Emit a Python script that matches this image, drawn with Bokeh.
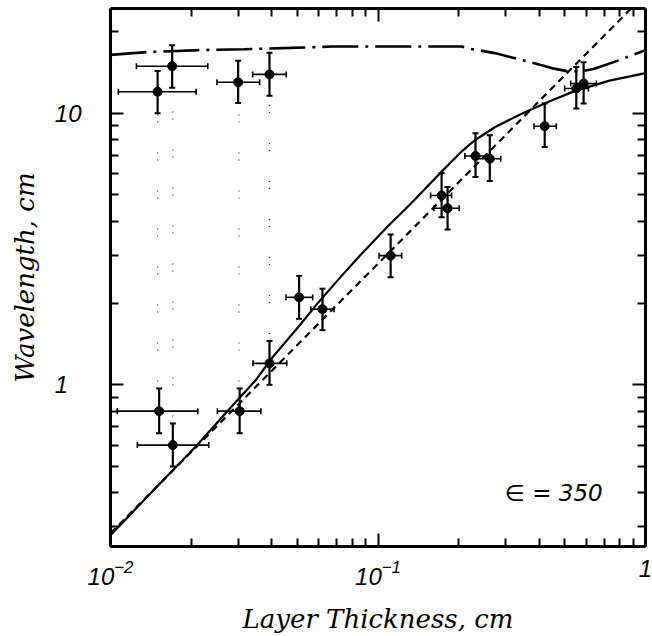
from bokeh.plotting import figure
from bokeh.models import ColumnDataSource, Whisker, TeeHead, FixedTicker, LogAxis, Label, LogTickFormatter
from bokeh.embed import file_html
from bokeh.resources import INLINE

# ---------------- data ----------------
# measured points: layer thickness h (cm), wavelength lam (cm), with error limits
h      = [0.0150, 0.0170, 0.0300, 0.0393, 0.0152, 0.0171, 0.0304, 0.0393, 0.0507,
          0.0620, 0.1115, 0.1729, 0.182, 0.2315, 0.2618, 0.4199, 0.5512, 0.587]
h_lo   = [0.0107, 0.0125, 0.0250, 0.0340, 0.0106, 0.0126, 0.0251, 0.0341, 0.0453,
          0.0561, 0.1009, 0.1573, 0.1618, 0.2112, 0.2302, 0.383, 0.4986, 0.525]
h_hi   = [0.0209, 0.0231, 0.0361, 0.0454, 0.0212, 0.0233, 0.0365, 0.0456, 0.0570,
          0.0685, 0.1226, 0.1884, 0.2011, 0.2551, 0.2877, 0.464, 0.612, 0.655]
lam    = [12.0, 14.9, 13.0, 13.9, 0.80, 0.60, 0.80, 1.20, 2.10,
          1.90, 2.99, 4.98, 4.47, 6.96, 6.80, 8.96, 12.33, 12.87]
lam_lo = [10.0, 12.4, 10.9, 11.6, 0.664, 0.50, 0.664, 1.00, 1.75,
          1.59, 2.49, 4.14, 3.73, 5.82, 5.63, 7.51, 10.4, 10.86]
lam_hi = [14.3, 17.8, 15.6, 16.7, 0.97, 0.72, 0.97, 1.45, 2.52,
          2.26, 3.58, 6.02, 5.35, 8.44, 8.30, 10.86, 14.8, 15.4]

# faint dotted connectors between paired branches
conn_h  = [0.0150, 0.0171, 0.0302, 0.0393]
conn_lo = [0.97, 0.72, 0.97, 1.45]
conn_hi = [10.0, 12.4, 10.9, 11.6]

# theory curve (solid)
solid_h   = [0.01, 0.01537, 0.02076, 0.02804, 0.03475, 0.04022, 0.05117, 0.05971,
             0.07213, 0.08566, 0.1086, 0.1317, 0.1703, 0.2076, 0.2301, 0.2733,
             0.3445, 0.4384, 0.5433, 0.7338, 1.0]
solid_lam = [0.2796, 0.4350, 0.5905, 0.8224, 1.035, 1.258, 1.665, 2.007,
             2.482, 2.992, 3.83, 4.616, 6.005, 7.304, 7.951, 8.88,
             9.96, 11.07, 12.06, 13.18, 14.05]

# linear law (dashed)
dash_h   = [0.01, 0.887]
dash_lam = [0.284, 24.4]

# second branch (dash-dot)
dd_h   = [0.01, 0.01374, 0.02168, 0.0316, 0.0470, 0.0679, 0.2056, 0.2167, 0.2733,
          0.3660, 0.4457, 0.5072, 0.5671, 0.6397, 0.7998, 1.0]
dd_lam = [16.4, 16.8, 17.08, 17.2, 17.4, 17.6, 17.6, 17.33, 16.65,
          15.47, 14.66, 14.29, 14.25, 14.54, 15.69, 17.08]

x_major = [0.01, 0.1, 1.0]
x_minor = [0.02, 0.03, 0.04, 0.05, 0.06, 0.07, 0.08, 0.09,
           0.2, 0.3, 0.4, 0.5, 0.6, 0.7, 0.8, 0.9]
x_labels = {1.0: "1"}
y_major = [1.0, 10.0]
y_minor = [0.3, 0.4, 0.5, 0.6, 0.7, 0.8, 0.9, 2, 3, 4, 5, 6, 7, 8, 9, 20]
y_labels = {1.0: "1\u2007", 10.0: "10"}

# ---------------- figure ----------------
p = figure(width=652, height=636, x_axis_type="log", y_axis_type="log",
           x_range=(0.01, 1.0), y_range=(0.254, 24.3),
           output_backend="svg", toolbar_location=None,
           min_border_left=110, min_border_right=7, min_border_top=8, min_border_bottom=89)
p.background_fill_color = "white"
p.border_fill_color = "white"
p.outline_line_color = None
p.xgrid.visible = False
p.ygrid.visible = False

bottom_ax = p.below[0]
left_ax = p.left[0]
top_ax = LogAxis()
right_ax = LogAxis()
p.add_layout(top_ax, "above")
p.add_layout(right_ax, "right")

for ax in [bottom_ax, top_ax]:
    ax.ticker = FixedTicker(ticks=x_major, minor_ticks=x_minor)
for ax in [left_ax, right_ax]:
    ax.ticker = FixedTicker(ticks=y_major, minor_ticks=y_minor)

for ax in [bottom_ax, left_ax, top_ax, right_ax]:
    ax.axis_line_width = 3
    ax.axis_line_color = "black"
    ax.major_tick_in = 13
    ax.major_tick_out = 0
    ax.minor_tick_in = 8
    ax.minor_tick_out = 0
    ax.major_tick_line_width = 2
    ax.minor_tick_line_width = 2
    ax.major_tick_line_color = "black"
    ax.minor_tick_line_color = "black"

for ax in [top_ax, right_ax]:
    ax.major_label_text_font_size = "1px"
    ax.major_label_text_alpha = 0
    ax.major_label_standoff = 0

bottom_ax.formatter = LogTickFormatter()
bottom_ax.major_label_overrides = x_labels
left_ax.major_label_overrides = y_labels
for ax in [bottom_ax, left_ax]:
    ax.major_label_text_font = "Liberation Sans"
    ax.major_label_text_font_style = "italic"
    ax.major_label_text_font_size = "24px"
    ax.major_label_text_color = "black"
    ax.axis_label_text_font = "DejaVu Serif"
    ax.axis_label_text_font_style = "italic"
    ax.axis_label_text_font_size = "26px"
    ax.axis_label_text_color = "black"

bottom_ax.axis_label = "Layer Thickness, cm"
left_ax.axis_label = "Wavelength, cm"
bottom_ax.major_label_standoff = 13
bottom_ax.axis_label_standoff = 16
left_ax.major_label_standoff = 29
left_ax.axis_label_standoff = 12

# curves
p.line(dd_h, dd_lam, line_color="black", line_width=2.6, line_dash="36 7 3 7")
p.line(dash_h, dash_lam, line_color="black", line_width=2.2, line_dash="7 5")
p.line(solid_h, solid_lam, line_color="black", line_width=2.2)

# faint dotted connectors
p.segment(x0=conn_h, y0=conn_lo, x1=conn_h, y1=conn_hi, line_color="black",
          line_width=1.3, line_dash="1 6 1 30", line_alpha=0.8)

src = ColumnDataSource(dict(h=h, h_lo=h_lo, h_hi=h_hi, lam=lam, lam_lo=lam_lo, lam_hi=lam_hi))
p.add_layout(Whisker(source=src, base="lam", lower="h_lo", upper="h_hi", dimension="width",
                     line_color="black", line_width=1.6,
                     upper_head=TeeHead(size=6, line_width=1.6),
                     lower_head=TeeHead(size=6, line_width=1.6)))
p.add_layout(Whisker(source=src, base="h", lower="lam_lo", upper="lam_hi", dimension="height",
                     line_color="black", line_width=2.2,
                     upper_head=TeeHead(size=6, line_width=2),
                     lower_head=TeeHead(size=6, line_width=2)))
p.scatter("h", "lam", source=src, size=9, marker="circle", fill_color="black", line_color="black")

p.add_layout(Label(x=0.298, y=0.3995, text="\u2208 = 350", text_font="DejaVu Sans",
                   text_font_style="italic", text_font_size="23px", text_baseline="middle",
                   text_align="left", text_color="black"))

open("out.html", "w").write(file_html(p, INLINE))
